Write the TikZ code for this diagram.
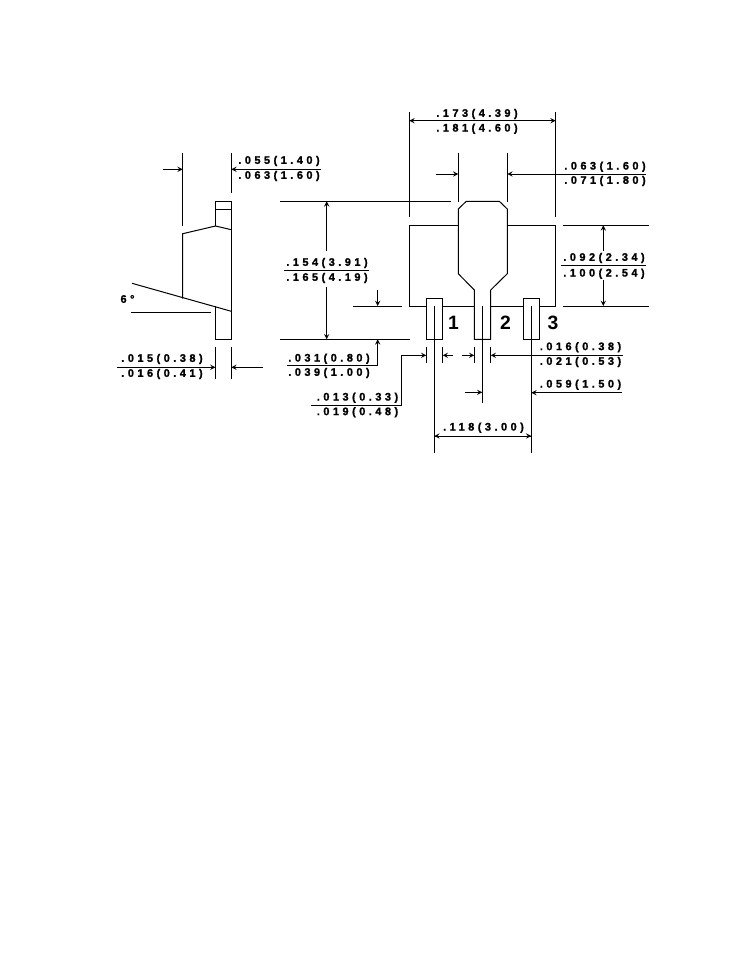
\documentclass[tikz,border=0pt]{standalone}
\usepackage{fontspec}
\setmainfont{Liberation Sans}
\usetikzlibrary{arrows}
\newfontfamily\dimfont[LetterSpace=32,FakeBold=1.5]{Liberation Sans Bold}
\begin{document}
\begin{tikzpicture}[x=0.75pt,y=-0.75pt,line width=0.75pt]
\tikzstyle{arrow} = [->,>=stealth]
\tikzstyle{dim} = [font=\dimfont\fontsize{8.2}{9}\selectfont,inner sep=0pt]
\tikzstyle{pin} = [font=\bfseries\fontsize{14.5}{16}\selectfont,inner sep=0pt]
\useasboundingbox (0,0) rectangle (756,972);

%Side view of the package
\draw (215.5,226) -- (215.5,201.3) -- (231.3,201.3) -- (231.3,339.3) -- (215.5,339.3) -- (215.5,306);
\draw (215.5,209.3) -- (231.3,209.3);
\draw (231.3,229.7) -- (215.5,226) -- (182.7,233.7) -- (182.7,298.7);
\draw (132,283.3) -- (231.3,311.3);
\draw (131,312.3) -- (210.7,312.3);
\node[dim] (angle) at (127.5,299) {6\textdegree};

%Extension lines and arrows of the side view
\draw (182.7,153.3) -- (182.7,225.7);
\draw (231.3,153.3) -- (231.3,193.3);
\draw[arrow] (163,169.3) -- (182.7,169.3);
\draw[arrow] (321,169.3) -- (231.3,169.3);
\node[dim] (leadA) at (279,161) {.055(1.40)};
\node[dim] (leadB) at (279,176) {.063(1.60)};
\draw (215.5,347) -- (215.5,379);
\draw (231.3,347) -- (231.3,379);
\draw[arrow] (117,367.3) -- (215.5,367.3);
\draw[arrow] (263,367.3) -- (231.3,367.3);
\node[dim] (thickA) at (162,359) {.015(0.38)};
\node[dim] (thickB) at (162,374) {.016(0.41)};

%Front view of the package
\draw (458.3,225.3) -- (409.3,225.3) -- (409.3,306) -- (426.3,306);
\draw (507.3,225.3) -- (555.7,225.3) -- (555.7,306) -- (539.7,306);
\draw (442.7,306) -- (474.3,306);
\draw (490.7,306) -- (523.3,306);
\draw (458.3,209) -- (466.3,201.3) -- (499.3,201.3) -- (507.3,209) -- (507.3,273.7) -- (490.7,290) -- (490.7,339.3)
   -- (474.3,339.3) -- (474.3,290) -- (458.3,273.7) -- cycle;
\draw (426.3,298.3) rectangle (442.7,339.3);
\draw (523.3,298.3) rectangle (539.7,339.3);
\draw (434.3,306) -- (434.3,452.7);
\draw (482.3,306) -- (482.3,402.7);
\draw (531.3,306) -- (531.3,452.7);
\node[pin] (pinA) at (453.5,323) {1};
\node[pin] (pinB) at (505.5,323) {2};
\node[pin] (pinC) at (553,323) {3};

%Width on top
\draw (409.3,112) -- (409.3,217.3);
\draw (555.7,112) -- (555.7,217.3);
\draw[arrow] (409.3,120.7) -- (555.7,120.7);
\draw[arrow] (555.7,120.7) -- (409.3,120.7);
\node[dim] (widthA) at (477,114) {.173(4.39)};
\node[dim] (widthB) at (477,128.7) {.181(4.60)};

%Width of the tab
\draw (458.3,152.7) -- (458.3,201.7);
\draw (507.3,152.7) -- (507.3,201.7);
\draw[arrow] (435.7,174) -- (458.3,174);
\draw[arrow] (645.7,174) -- (507.3,174);
\node[dim] (tabA) at (605,166.7) {.063(1.60)};
\node[dim] (tabB) at (605,181) {.071(1.80)};

%Height of the whole part
\draw (280,201.3) -- (451,201.3);
\draw (280,339.3) -- (410,339.3);
\draw[arrow] (326.7,250.7) -- (326.7,201.3);
\draw[arrow] (326.7,287) -- (326.7,339.3);
\draw (284,270.3) -- (369,270.3);
\node[dim] (heightA) at (327,263) {.154(3.91)};
\node[dim] (heightB) at (327,278) {.165(4.19)};

%Height of the body
\draw (563,225.3) -- (648.7,225.3);
\draw (563,306) -- (648.7,306);
\draw[arrow] (603.3,250.7) -- (603.3,225.3);
\draw[arrow] (603.3,280) -- (603.3,306);
\draw (560.7,265.3) -- (645.7,265.3);
\node[dim] (bodyA) at (604,258) {.092(2.34)};
\node[dim] (bodyB) at (604,273.7) {.100(2.54)};

%Standoff below the body
\draw (353,306) -- (402.3,306);
\draw[arrow] (377.7,290) -- (377.7,306);
\draw[arrow] (287,365.3) -- (377.7,365.3) -- (377.7,339.3);
\node[dim] (standA) at (329,358.7) {.031(0.80)};
\node[dim] (standB) at (329,373) {.039(1.00)};

%Lead widths
\draw (426.3,346.7) -- (426.3,363.3);
\draw (442.7,346.7) -- (442.7,363.3);
\draw (474.3,346.7) -- (474.3,363.3);
\draw (490.7,346.7) -- (490.7,363.3);
\draw[arrow] (311,405.3) -- (401.3,405.3) -- (401.3,355.3) -- (426.3,355.3);
\draw[arrow] (452.7,355.3) -- (442.7,355.3);
\draw[arrow] (462,355.3) -- (474.3,355.3);
\draw[arrow] (622.7,355.3) -- (490.7,355.3);
\node[dim] (leadC) at (357.5,397.7) {.013(0.33)};
\node[dim] (leadD) at (357.5,412.3) {.019(0.48)};
\node[dim] (leadE) at (580.5,347.3) {.016(0.38)};
\node[dim] (leadF) at (580.5,362) {.021(0.53)};

%Pin spacing
\draw[arrow] (465,392.3) -- (482.3,392.3);
\draw[arrow] (622,392.7) -- (531.3,392.7);
\node[dim] (pitchA) at (580.5,384.7) {.059(1.50)};
\draw[arrow] (434.3,436) -- (531.3,436);
\draw[arrow] (531.3,436) -- (434.3,436);
\node[dim] (pitchB) at (483.5,427.7) {.118(3.00)};

\end{tikzpicture}
\end{document}
